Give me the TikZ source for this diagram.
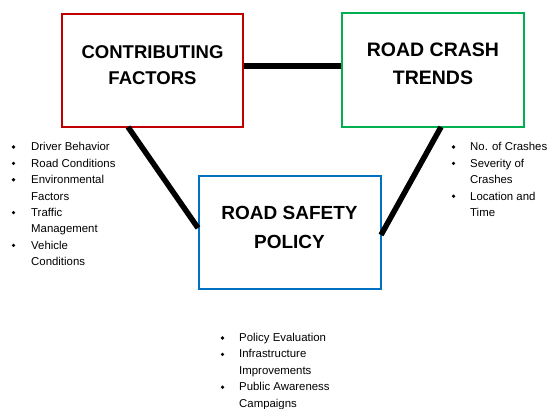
\documentclass[tikz,border=0pt]{standalone}
\usepackage{fontspec}
\setmainfont{Liberation Sans}
\definecolor{cfred}{HTML}{C00000}
\definecolor{rcgreen}{HTML}{00B050}
\definecolor{rsblue}{HTML}{0070C0}
\begin{document}
\begin{tikzpicture}[x=1pt,y=-1pt,
  box/.style={draw=#1,line width=2pt,fill=white,inner sep=0pt},
  title/.style={align=center,inner sep=0pt},
  link/.style={line width=5.5pt},
  bul/.style={circle,fill=black,inner sep=0pt,minimum size=3.6pt},
  item/.style={font=\fontsize{11.4}{13}\selectfont,anchor=base west,inner sep=0pt}]
\useasboundingbox (0,0) rectangle (547,409);
% three boxes
\node[box=cfred,minimum width=181pt,minimum height=113pt] (cf) at (152.5,70.5) {};
\node[box=rcgreen,minimum width=182pt,minimum height=114pt] (rc) at (433,70) {};
\node[box=rsblue,minimum width=182pt,minimum height=113pt] (rs) at (289.5,232.5) {};
\node[title,font=\fontsize{18.5}{26}\selectfont\bfseries] (cf-t) at (152.5,65) {CONTRIBUTING\\FACTORS};
\node[title,font=\fontsize{19.5}{28}\selectfont\bfseries] (rc-t) at (433,64) {ROAD CRASH\\TRENDS};
\node[title,font=\fontsize{19}{29}\selectfont\bfseries] (rs-t) at (289.5,227.5) {ROAD SAFETY\\POLICY};
% connector ends on the box edges
\coordinate (cf-e) at (cf.east |- 0,66);
\coordinate (rc-w) at (rc.west |- 0,66);
\coordinate (cf-s) at (128,127);
\coordinate (rs-w) at (198,228);
\coordinate (rc-s) at (441,127);
\coordinate (rs-e) at (381,235);
\draw[link] (cf-e) -- (rc-w);
\draw[link] (cf-s) -- (rs-w);
\draw[link] (rc-s) -- (rs-e);
% bullet lists
\foreach \t [count=\i] in {Driver Behavior,Road Conditions,Environmental,Factors,Traffic,Management,Vehicle,Conditions}
  \node[item] (cf-l\i) at (31,{151+16.4*(\i-1)}) {\t};
\foreach \i in {1,2,3,5,7}
  \node[bul] (cf-b\i) at (13.5,{147+16.4*(\i-1)}) {};
\foreach \t [count=\i] in {No. of Crashes,Severity of,Crashes,Location and,Time}
  \node[item] (rc-l\i) at (470,{151+16.4*(\i-1)}) {\t};
\foreach \i in {1,2,4}
  \node[bul] (rc-b\i) at (453.5,{147+16.4*(\i-1)}) {};
\foreach \t [count=\i] in {Policy Evaluation,Infrastructure,Improvements,Public Awareness,Campaigns}
  \node[item] (rs-l\i) at (239,{341.5+16.4*(\i-1)}) {\t};
\foreach \i in {1,2,4}
  \node[bul] (rs-b\i) at (222.5,{338+16.4*(\i-1)}) {};
\end{tikzpicture}
\end{document}
